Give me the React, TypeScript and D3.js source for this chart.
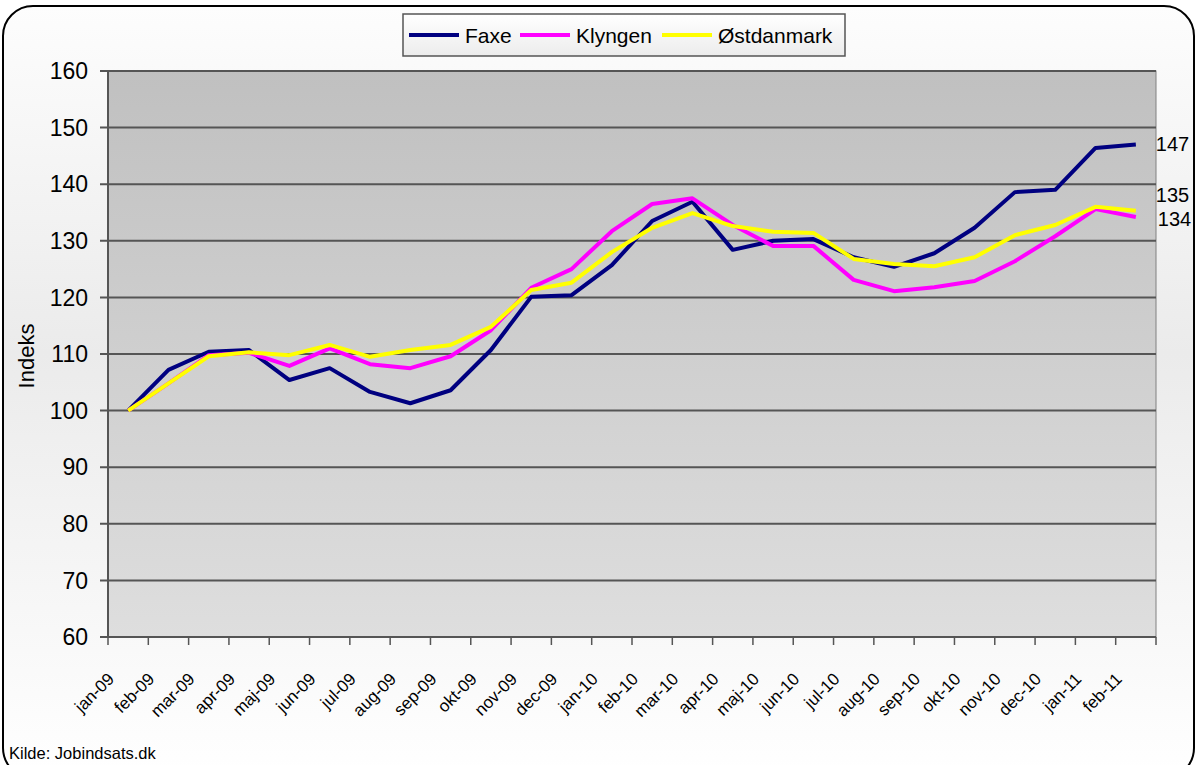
import React from 'react';
import * as d3 from 'd3';

const months = [
  'jan-09', 'feb-09', 'mar-09', 'apr-09', 'maj-09', 'jun-09', 'jul-09', 'aug-09', 'sep-09', 'okt-09', 'nov-09', 'dec-09',
  'jan-10', 'feb-10', 'mar-10', 'apr-10', 'maj-10', 'jun-10', 'jul-10', 'aug-10', 'sep-10', 'okt-10', 'nov-10', 'dec-10',
  'jan-11', 'feb-11',
];

const faxe = [
  100, 107.2, 110.4, 110.7, 105.4, 107.5, 103.3, 101.3, 103.6, 110.7, 120.1, 120.4,
  125.7, 133.5, 136.9, 128.4, 130.0, 130.3, 127.1, 125.4, 127.8, 132.3, 138.6, 139.0,
  146.4, 147.0,
];

const klyngen = [
  100, 104.8, 109.8, 110.2, 107.9, 111.0, 108.2, 107.5, 109.6, 114.2, 121.7, 125.0,
  131.7, 136.5, 137.5, 132.8, 129.1, 129.1, 123.1, 121.1, 121.8, 122.9, 126.4, 130.8,
  135.6, 134.2,
];

const ostdanmark = [
  100, 104.8, 109.6, 110.3, 109.8, 111.6, 109.5, 110.7, 111.6, 114.8, 121.3, 122.6,
  128.0, 132.3, 134.9, 132.6, 131.6, 131.4, 126.8, 125.9, 125.5, 127.1, 131.0, 132.8,
  136.0, 135.3,
];

const yTicks = [60, 70, 80, 90, 100, 110, 120, 130, 140, 150, 160];

const series = [
  { name: 'Faxe', values: faxe, color: '#000080' },
  { name: 'Klyngen', values: klyngen, color: '#ff00ff' },
  { name: 'Østdanmark', values: ostdanmark, color: '#ffff00' },
];

const W = 1197;
const H = 765;
const font = 'Liberation Sans, Arial, sans-serif';

export default function App() {
  const left = 108, right = 1156, top = 71, bottom = 637;

  const x = d3.scaleBand().domain(months).range([left, right]);
  const y = d3.scaleLinear().domain([60, 160]).range([bottom, top]);
  const cx = (m: string) => x(m)! + x.bandwidth() / 2;

  const line = d3
    .line<number>()
    .x((_, i) => cx(months[i]))
    .y((d) => y(d));

  const lastX = cx(months[months.length - 1]);
  const last = (a: number[]) => a[a.length - 1];

  // legend layout
  const legend = [
    { s: series[0], lx: 409, tx: 465 },
    { s: series[1], lx: 520, tx: 576 },
    { s: series[2], lx: 662, tx: 718 },
  ];

  return (
    <svg width={W} height={H} style={{ position: 'absolute', left: 0, top: 0 }} fontFamily={font}>
      <defs>
        <linearGradient id="bg" x1="0" y1="0" x2="0" y2="1">
          <stop offset="0" stopColor="#fdfdfd" />
          <stop offset="0.45" stopColor="#ebebeb" />
          <stop offset="1" stopColor="#ffffff" />
        </linearGradient>
        <linearGradient id="plot" x1="0" y1="0" x2="0" y2="1">
          <stop offset="0" stopColor="#c0c0c0" />
          <stop offset="1" stopColor="#dedede" />
        </linearGradient>
        <linearGradient id="leg" x1="0" y1="0" x2="0" y2="1">
          <stop offset="0" stopColor="#ffffff" />
          <stop offset="1" stopColor="#ececec" />
        </linearGradient>
      </defs>

      <rect x={3} y={6} width={1191} height={772} rx={30} fill="url(#bg)" stroke="#000" strokeWidth={2} />

      <rect x={left} y={top} width={right - left} height={bottom - top} fill="url(#plot)" stroke="#808080" strokeWidth={1} />

      {yTicks.map((t) => (
        <g key={t}>
          <line x1={left - 8} x2={t === 60 ? left : right} y1={y(t)} y2={y(t)} stroke="#555" strokeWidth={2} />
          <text x={88} y={y(t)} dy="0.36em" textAnchor="end" fontSize={23} fill="#000">
            {t}
          </text>
        </g>
      ))}
      <line x1={left} x2={left} y1={top} y2={bottom} stroke="#555" strokeWidth={2} />
      <line x1={left} x2={right} y1={bottom} y2={bottom} stroke="#555" strokeWidth={2} />

      {months.map((m) => (
        <line key={'t' + m} x1={x(m)!} x2={x(m)!} y1={bottom} y2={bottom + 8} stroke="#555" strokeWidth={1.5} />
      ))}
      <line x1={right} x2={right} y1={bottom} y2={bottom + 8} stroke="#555" strokeWidth={1.5} />

      {months.map((m) => {
        const lx = cx(m) - 13;
        const ly = bottom + 43;
        return (
          <text key={m} x={lx} y={ly} textAnchor="end" fontSize={17} transform={`rotate(-45 ${lx} ${ly})`}>
            {m}
          </text>
        );
      })}

      <text transform={`translate(34 ${(top + bottom) / 2 + 2}) rotate(-90)`} textAnchor="middle" fontSize={22}>
        Indeks
      </text>

      {series.map((s) => (
        <path key={s.name} d={line(s.values)!} fill="none" stroke={s.color} strokeWidth={4} strokeLinejoin="round" />
      ))}

      <text x={lastX + 20} y={y(last(faxe)) - 1} dy="0.36em" fontSize={20}>147</text>
      <text x={lastX + 20} y={y(last(ostdanmark)) - 16} dy="0.36em" fontSize={20}>135</text>
      <text x={lastX + 22} y={y(last(klyngen)) + 2} dy="0.36em" fontSize={20}>134</text>

      <rect x={403} y={14} width={442} height={42} fill="url(#leg)" stroke="#555" strokeWidth={1.5} />
      {legend.map((l) => (
        <g key={l.s.name}>
          <line x1={l.lx} x2={l.lx + 50} y1={35} y2={35} stroke={l.s.color} strokeWidth={4} />
          <text x={l.tx} y={35} dy="0.36em" fontSize={21}>
            {l.s.name}
          </text>
        </g>
      ))}

      <text x={9} y={753} dy="0.36em" fontSize={16.5}>
        Kilde: Jobindsats.dk
      </text>
    </svg>
  );
}
